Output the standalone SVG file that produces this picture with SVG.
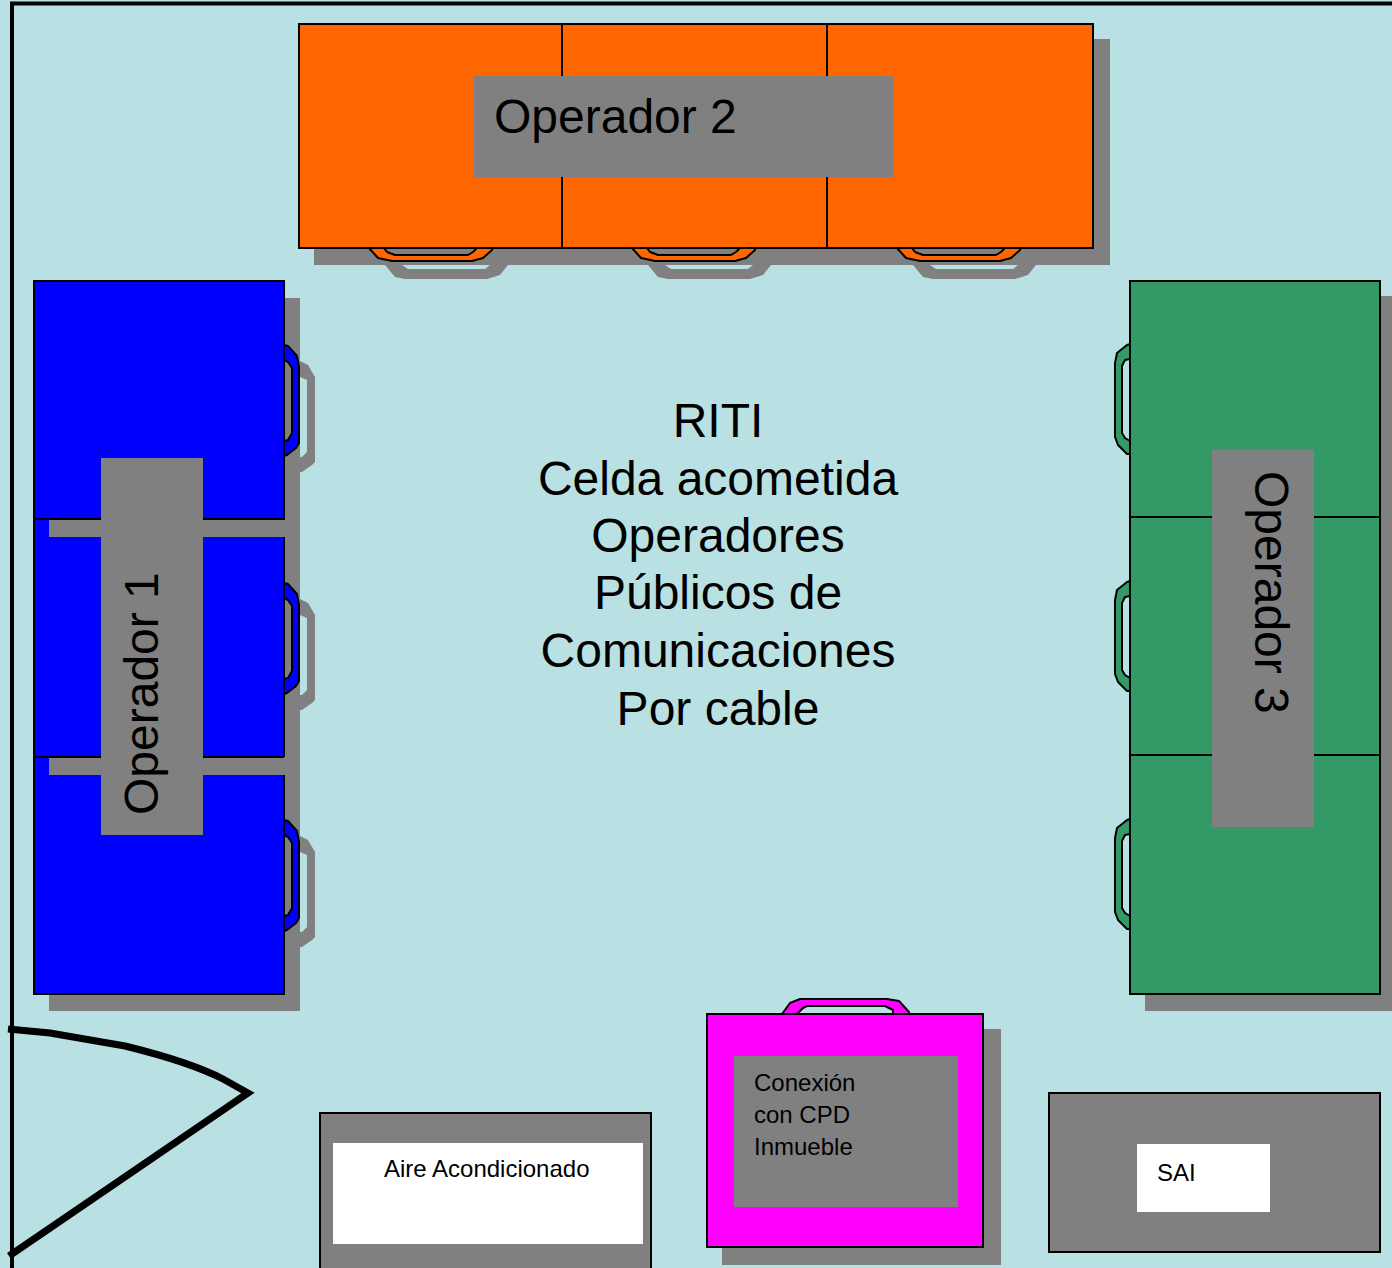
<svg xmlns="http://www.w3.org/2000/svg" width="1392" height="1268" viewBox="0 0 1392 1268">
<style>
text{font-family:"Liberation Sans",Arial,sans-serif;fill:#000}
.big{font-size:48px}
.small{font-size:24px}
.mid{text-anchor:middle}
.sh{fill:#808080;stroke:none}
.cell{stroke:#000;stroke-width:2}
.blue{fill:#0000ff}.orange{fill:#ff6600}.green{fill:#339966}.mag{fill:#ff00ff}.gray{fill:#808080}
.lab{fill:#808080;stroke:none}
.wh{fill:#fff;stroke:none}
.hnd{stroke:#000;stroke-width:2;stroke-linejoin:round}
</style>
<defs>
<path id="hr" d="M0 0L4 1L13 11L15 22L15 98L12 103L3 110L0 111L0 96L4 95L8 88L8 23L4 17L0 15Z"/>
<path id="hrs" d="M0 0L8 4L15 16L15 101L12 104L2 111L0 111L0 96L2 96L7 91L7 19L0 16Z"/>
<path id="ht" d="M0 0L9 10L23 13L103 13L114 10L123 2L123 0L108 0L104 4L99 7L26 7L18 4L15 0Z"/>
<path id="hts" d="M0 0L10 12L20 14L102 14L115 10L123 0L105 0L100 4L23 4L17 0Z"/>
<path id="hl" d="M15 0L12 1L2 9L0 19L0 93L3 101L12 110L15 110L15 97L10 94L7 89L7 22L10 16L15 15Z"/>
</defs>
<rect width="1392" height="1268" fill="#b9e0e3"/>
<g id="muro" fill="none" stroke="#000" stroke-width="4"><path d="M12 1268V3.5H1392"/></g>

<g id="operador-2">
<rect class="sh" x="314" y="39" width="796" height="226"/>
<g class="sh"><use href="#hts" x="385" y="265"/><use href="#hts" x="648" y="265"/><use href="#hts" x="913" y="265"/></g>
<g class="hnd orange"><use href="#ht" x="369" y="248"/><use href="#ht" x="632" y="248"/><use href="#ht" x="897" y="248"/></g>
<rect class="cell orange" x="299" y="24" width="263" height="224"/>
<rect class="cell orange" x="562" y="24" width="265" height="224"/>
<rect class="cell orange" x="827" y="24" width="266" height="224"/>
<rect class="lab" x="474" y="76" width="419" height="101"/>
<text class="big" x="494" y="133">Operador 2</text>
</g>

<g id="operador-1">
<rect class="sh" x="49" y="774" width="251" height="237"/>
<rect class="cell blue" x="34" y="757" width="250" height="237"/>
<rect class="cell blue" x="34" y="519" width="250" height="238"/>
<rect class="sh" x="49" y="536" width="251" height="238"/>
<rect class="sh" x="49" y="298" width="251" height="238"/>
<rect class="cell blue" x="34" y="519" width="250" height="238" style="fill:none;stroke:none"/>
<rect class="blue" x="35" y="537" width="14" height="220"/>
<rect class="blue" x="49" y="537" width="234" height="220"/>
<path d="M34 519V994M284 537V757" fill="none" stroke="#000" stroke-width="2"/>
<rect class="sh" x="49" y="757" width="251" height="18"/>
<rect class="cell blue" x="34" y="281" width="250" height="238"/>
<path d="M34 757H49M284 775V994" fill="none" stroke="#000" stroke-width="2"/>
<path d="M49 757H284" stroke="#000" stroke-width="2"/>
<g class="sh"><use href="#hrs" x="300" y="361"/><use href="#hrs" x="300" y="599"/><use href="#hrs" x="300" y="836"/></g>
<g class="hnd blue"><use href="#hr" x="284" y="345"/><use href="#hr" x="284" y="583"/><use href="#hr" x="284" y="820"/></g>
<rect class="lab" x="101" y="458" width="102" height="377"/>
<text class="big" transform="translate(158 815) rotate(-90)">Operador 1</text>
</g>

<g id="operador-3">
<rect class="sh" x="1145" y="296" width="247" height="715"/>
<g class="hnd green"><use href="#hl" x="1115" y="344"/><use href="#hl" x="1115" y="581"/><use href="#hl" x="1115" y="819"/></g>
<rect class="cell green" x="1130" y="281" width="250" height="236"/>
<rect class="cell green" x="1130" y="517" width="250" height="238"/>
<rect class="cell green" x="1130" y="755" width="250" height="239"/>
<rect class="lab" x="1212" y="450" width="102" height="377"/>
<text class="big" transform="translate(1255 471) rotate(90)">Operador 3</text>
</g>

<g id="riti">
<text class="big mid" x="718" y="437">RITI</text>
<text class="big mid" x="718" y="495">Celda acometida</text>
<text class="big mid" x="718" y="552">Operadores</text>
<text class="big mid" x="718" y="609">Públicos de</text>
<text class="big mid" x="718" y="667">Comunicaciones</text>
<text class="big mid" x="718" y="725">Por cable</text>
</g>

<g id="puerta">
<path d="M8 1029L50 1033L125 1046Q190 1062 223 1079L248 1093L9 1256" fill="none" stroke="#000" stroke-width="7" stroke-miterlimit="10"/>
</g>

<g id="aire-acondicionado">
<rect class="cell gray" x="320" y="1113" width="331" height="170"/>
<rect class="wh" x="333" y="1143" width="310" height="101"/>
<text class="small" x="384" y="1177">Aire Acondicionado</text>
</g>

<g id="conexion-cpd">
<rect class="sh" x="722" y="1029" width="279" height="236"/>
<path class="hnd mag" d="M782 1014L790 1003L800 999L887 999L899 1001L909 1012L909 1014L893 1014L893 1010L885 1006L807 1006L803 1008L797 1014Z"/>
<rect class="cell mag" x="707" y="1014" width="276" height="233"/>
<rect class="lab" x="734" y="1056" width="224" height="151"/>
<text class="small" x="754" y="1091">Conexión</text>
<text class="small" x="754" y="1123">con CPD</text>
<text class="small" x="754" y="1155">Inmueble</text>
</g>

<g id="sai">
<rect class="cell gray" x="1049" y="1093" width="331" height="159"/>
<rect class="wh" x="1137" y="1144" width="133" height="68"/>
<text class="small" x="1157" y="1181">SAI</text>
</g>
<g id="connectors"/>
</svg>
